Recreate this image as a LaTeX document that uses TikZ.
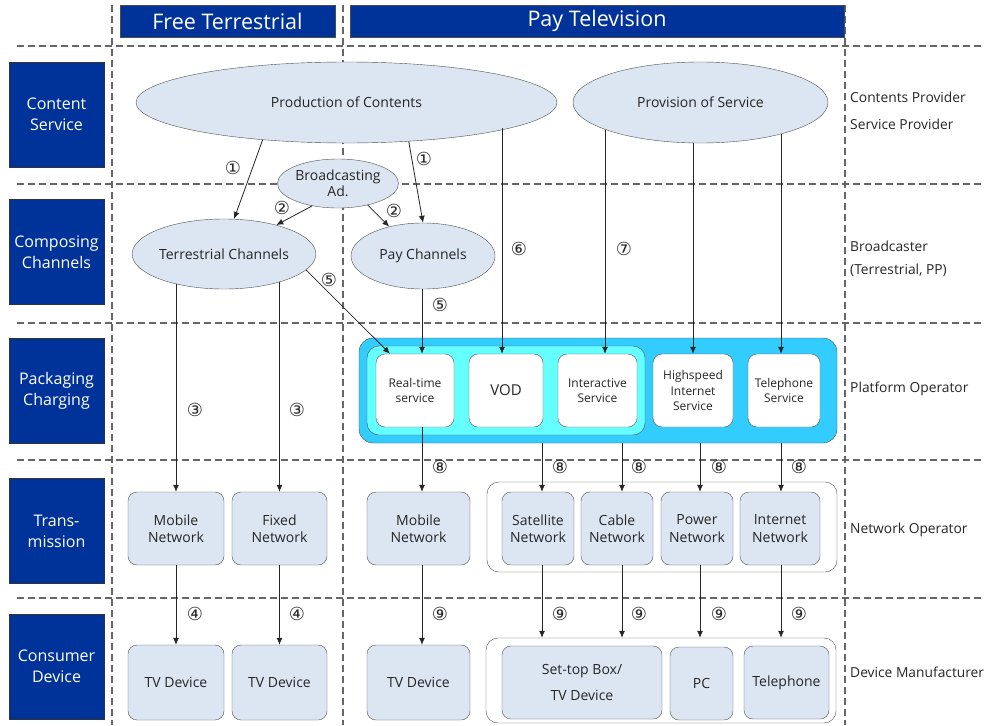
\documentclass[tikz,border=0pt]{standalone}
\usepackage{fontspec}
\setmainfont{Open Sans}
\newfontfamily\circfont{DejaVu Sans}
\usetikzlibrary{shapes.geometric,arrows.meta}
\definecolor{hdblue}{RGB}{0,51,153}
\definecolor{lightfill}{RGB}{220,230,242}
\definecolor{platblue}{RGB}{51,204,255}
\definecolor{platcyan}{RGB}{102,255,255}
\definecolor{edgegray}{RGB}{80,80,80}

\begin{document}
\begin{tikzpicture}[x=1pt, y=-1pt,
  every node/.style={font=\fontsize{14}{17}\selectfont, text=black!85, align=center},
  grid/.style={draw=gray!80!black, line width=1.1pt, dash pattern=on 7pt off 4pt},
  head/.style={draw=black!70, fill=hdblue, text=white, font=\fontsize{21.5}{24}\selectfont, inner sep=0, minimum height=32},
  layer/.style={draw=black!80, fill=hdblue, text=white, font=\fontsize{16}{21}\selectfont, minimum width=95, minimum height=105, inner sep=0},
  ell/.style={draw=edgegray, fill=lightfill, ellipse, inner sep=0},
  net/.style={draw=edgegray, fill=lightfill, rounded corners=9, inner sep=0, minimum height=73, font=\fontsize{14}{17.5}\selectfont},
  srv/.style={draw=edgegray, fill=white, rounded corners=9, inner sep=0, minimum height=73, font=\fontsize{12}{15.5}\selectfont},
  grp/.style={draw=edgegray, rounded corners=12, inner sep=0},
  role/.style={anchor=west, font=\fontsize{13.8}{17}\selectfont, inner sep=0},
  num/.style={font=\circfont\fontsize{18}{18}\selectfont, inner sep=0},
  arr/.style={draw=black!85, line width=0.8pt, -{Latex[length=7pt,width=6pt]}}]

\useasboundingbox (0,0) rectangle (984,725);

\foreach \y in {46,184,323,460,598} \draw[grid] (17,\y) -- (984,\y);
\foreach \x in {112,343,845} \draw[grid] (\x,5) -- (\x,725);

\node[head, minimum width=215] (free) at (227.5,21) {Free Terrestrial};
\node[head, minimum width=494] (pay) at (597,21) {Pay Television};

\node[layer] (l1) at (56.5,114.5) {Content\\Service};
\node[layer] (l2) at (56.5,252) {Composing\\Channels};
\node[layer] (l3) at (56.5,390.5) {Packaging\\Charging};
\node[layer] (l4) at (56.5,531) {Trans-\\mission};
\node[layer] (l5) at (56.5,666.5) {Consumer\\Device};

\node[role] (r1) at (850,97) {Contents Provider};
\node[role] (r2) at (850,124) {Service Provider};
\node[role] (r3) at (850,246) {Broadcaster};
\node[role] (r4) at (850,270) {(Terrestrial, PP)};
\node[role] (r5) at (850,389) {Platform Operator};
\node[role] (r6) at (850,530) {Network Operator};
\node[role] (r7) at (850,672) {Device Manufacturer};

\node[ell, minimum width=421, minimum height=81] (prod) at (346.5,102.5) {Production of Contents};
\node[ell, minimum width=255, minimum height=81] (prov) at (700.5,102.5) {Provision of Service};
\node[ell, minimum width=121, minimum height=49, font=\fontsize{14}{16}\selectfont] (bad) at (338,183.5) {Broadcasting\\Ad.};
\node[ell, minimum width=176, minimum height=70] (terr) at (224,254) {Terrestrial Channels};
\node[ell, minimum width=144, minimum height=66] (payc) at (423,256) {Pay Channels};

\node[draw=edgegray, fill=platblue, rounded corners=14, minimum width=478, minimum height=105, inner sep=0] (plat) at (598,390.5) {};
\node[draw=edgegray, fill=platcyan, rounded corners=12, minimum width=278, minimum height=89, inner sep=0] (pin) at (506,390.5) {};
\node[srv, minimum width=78] (rt) at (415,390.5) {Real-time\\service};
\node[srv, minimum width=74, font=\fontsize{15}{18}\selectfont] (vod) at (506,390.5) {VOD};
\node[srv, minimum width=79] (inter) at (597.5,390.5) {Interactive\\Service};
\node[srv, minimum width=80] (hs) at (693,390.5) {Highspeed\\Internet\\Service};
\node[srv, minimum width=72] (tel) at (784,390.5) {Telephone\\Service};

\node[grp, minimum width=350, minimum height=90] (tg) at (662,527) {};
\node[net, minimum width=96] (mob1) at (176,528.5) {Mobile\\Network};
\node[net, minimum width=95] (fix1) at (279.5,528.5) {Fixed\\Network};
\node[net, minimum width=103] (mob2) at (418.5,528.5) {Mobile\\Network};
\node[net, minimum width=72] (sat) at (538,528.5) {Satellite\\Network};
\node[net, minimum width=72] (cab) at (617,528.5) {Cable\\Network};
\node[net, minimum width=72] (pow) at (697,528.5) {Power\\Network};
\node[net, minimum width=80] (inet) at (780,528.5) {Internet\\Network};

\node[grp, minimum width=350, minimum height=85] (cg) at (661,680.5) {};
\node[net, minimum width=96, minimum height=75] (tv1) at (176,682.5) {TV Device};
\node[net, minimum width=95, minimum height=75] (tv2) at (279.5,682.5) {TV Device};
\node[net, minimum width=103, minimum height=75] (tv3) at (418.5,682.5) {TV Device};
\node[net, minimum width=160] (stb) at (582,682.5) {Set-top Box/\\[8pt]TV Device};
\node[net, minimum width=63] (pc) at (701.5,683.5) {PC};
\node[net, minimum width=85] (telp) at (786.5,682.5) {Telephone};

\draw[arr] (prod.-156) -- (terr.74);
\draw[arr] (prod.-32.5) -- (payc.north);
\draw[arr] (bad.-139.6) -- (terr.29);
\draw[arr] (bad.-36.6) -- (payc.139);
\draw[arr] (terr.-11.7) -- ([xshift=-25]rt.north);
\draw[arr] ([xshift=7]rt.north |- payc.south) -- ([xshift=7]rt.north);
\draw[arr] ([xshift=-4]vod.north |- prod.-9.9) -- ([xshift=-4]vod.north);
\draw[arr] ([xshift=7.5]inter.north |- prov.-164.3) -- ([xshift=7.5]inter.north);
\draw[arr] (hs.north |- prov.south) -- (hs.north);
\draw[arr] ([xshift=-3]tel.north |- prov.-21.3) -- ([xshift=-3]tel.north);

\draw[arr] (mob1.north |- terr.-147.8) -- (mob1.north);
\draw[arr] (fix1.north |- terr.-26.4) -- (fix1.north);
\draw[arr] ([xshift=3.5]mob2.north |- rt.south) -- ([xshift=3.5]mob2.north);
\draw[arr] ([xshift=4]sat.north |- plat.south) -- ([xshift=4]sat.north);
\draw[arr] ([xshift=5]cab.north |- plat.south) -- ([xshift=5]cab.north);
\draw[arr] ([xshift=3]pow.north |- plat.south) -- ([xshift=3]pow.north);
\draw[arr] ([xshift=1]inet.north |- plat.south) -- ([xshift=1]inet.north);

\draw[arr] (mob1.south) -- (tv1.north);
\draw[arr] (fix1.south) -- (tv2.north);
\draw[arr] ([xshift=3.5]mob2.south) -- ([xshift=3.5]tv3.north);
\draw[arr] ([xshift=4]sat.south) -- ([xshift=4]sat.south |- cg.north);
\draw[arr] ([xshift=5]cab.south) -- ([xshift=5]cab.south |- cg.north);
\draw[arr] ([xshift=3]pow.south) -- ([xshift=3]pow.south |- cg.north);
\draw[arr] ([xshift=1]inet.south) -- ([xshift=1]inet.south |- cg.north);

\foreach \x/\y/\n [count=\i] in {233/168/①, 424/159/①, 282/208/②, 394/211/②,
    195/410/③, 297/410/③, 195/614/④, 297/614/④, 329/280/⑤, 440/305/⑤,
    519/249/⑥, 624/249/⑦, 440/467/⑧, 560/467/⑧, 639/467/⑧, 719/467/⑧, 799/467/⑧,
    440/614/⑨, 560/614/⑨, 639/614/⑨, 719/614/⑨, 799/614/⑨}
  \node[num] (c\i) at (\x,\y) {\n};

\end{tikzpicture}
\end{document}
